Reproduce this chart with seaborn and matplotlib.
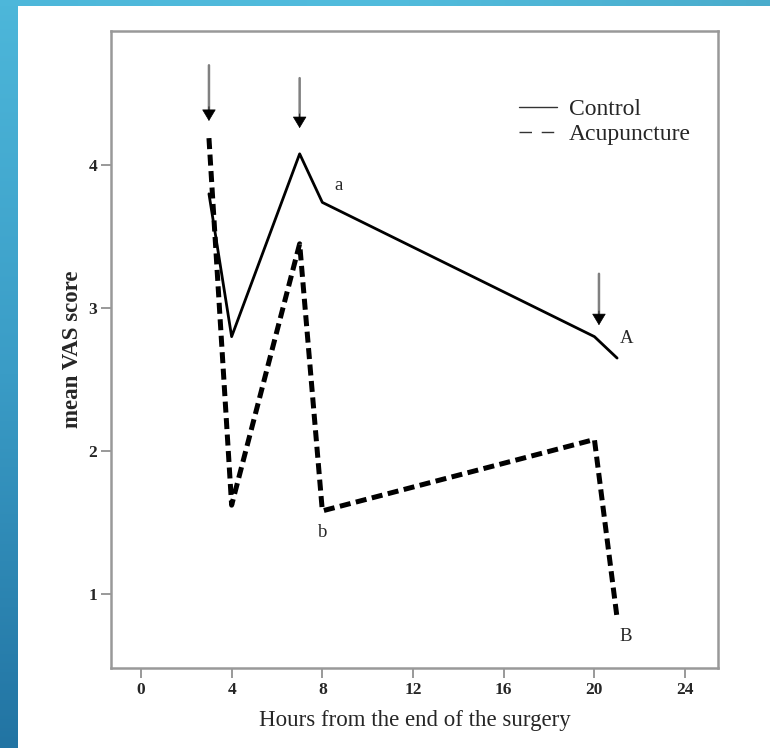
import numpy as np
import pandas as pd
import matplotlib
matplotlib.use("Agg")
import matplotlib.pyplot as plt
from matplotlib.lines import Line2D
from matplotlib.colors import LinearSegmentedColormap
import seaborn as sns

sns.set_style("white")
plt.rcParams['font.family'] = ['Liberation Serif', 'DejaVu Serif']

# data
hours = [3, 4, 7, 8, 20, 21]
control = [3.80, 2.80, 4.08, 3.74, 2.80, 2.65]
acupuncture = [4.19, 1.62, 3.45, 1.58, 2.08, 0.83]

arrow_x = [3, 7, 20.2]
arrow_top = [4.70, 4.61, 3.24]
arrow_tip = [4.31, 4.26, 2.88]

letters = ['a', 'b', 'A', 'B']
letter_x = [8.7, 8.0, 21.4, 21.4]
letter_y = [3.86, 1.43, 2.79, 0.70]

x_ticks = [0, 4, 8, 12, 16, 20, 24]
y_ticks = [1, 2, 3, 4]

df = pd.DataFrame({'hours': hours * 2,
                   'vas': control + acupuncture,
                   'group': ['Control'] * len(hours) + ['Acupuncture'] * len(hours)})

fig = plt.figure(figsize=(7.7, 7.48), dpi=100)

# slide background bands
band = fig.add_axes([0, 0, 18 / 770, 1])
grad = np.linspace(0, 1, 256).reshape(-1, 1)
cmap = LinearSegmentedColormap.from_list('slide', ['#4db7da', '#3a9cc6', '#2274a3'])
band.imshow(grad, aspect='auto', cmap=cmap, extent=[0, 1, 0, 1], origin='upper')
band.axis('off')
top = fig.add_axes([0, 1 - 6 / 748, 1, 6 / 748])
hgrad = np.linspace(0, 1, 256).reshape(1, -1)
top.imshow(hgrad, aspect='auto', extent=[0, 1, 0, 1],
           cmap=LinearSegmentedColormap.from_list('top', ['#4db7da', '#51bcdd', '#4aaccc']))
top.axis('off')

ax = fig.add_axes([111 / 770, 80 / 748, 607 / 770, 637 / 748])

sns.lineplot(data=df[df.group == 'Control'], x='hours', y='vas', ax=ax,
             color='black', lw=2.0, legend=False)
sns.lineplot(data=df[df.group == 'Acupuncture'], x='hours', y='vas', ax=ax,
             color='black', lw=3.6, legend=False)
ax.lines[1].set_dashes([2.2, 1.1])

# dosing arrows: grey shaft, black head
for x, y0, y1 in zip(arrow_x, arrow_top, arrow_tip):
    ax.annotate('', xy=(x, y1 + 0.06), xytext=(x, y0),
                arrowprops=dict(arrowstyle='-', color='#808080', lw=1.8,
                                shrinkA=0, shrinkB=0))
    ax.annotate('', xy=(x, y1), xytext=(x, y1 + 0.1),
                arrowprops=dict(arrowstyle='-|>,head_width=0.45,head_length=0.75',
                                color='black', lw=0.5, shrinkA=0, shrinkB=0))

for t, x, y in zip(letters, letter_x, letter_y):
    ax.text(x, y, t, ha='center', va='center', fontsize=13.5)

ax.set_xlim(-1.32, 25.45)
ax.set_ylim(0.48, 4.94)
ax.set_xticks(x_ticks)
ax.set_yticks(y_ticks)
ax.tick_params(axis='both', direction='out', length=7, width=1.2, color='#888888',
               labelsize=12.5, pad=3, bottom=True, left=True)
for lab in ax.get_xticklabels() + ax.get_yticklabels():
    lab.set_fontweight('bold')
for s in ax.spines.values():
    s.set_color('#999999')
    s.set_linewidth(1.8)

ax.set_xlabel('Hours from the end of the surgery', fontsize=16.5, labelpad=8.5)
ax.set_ylabel('mean VAS score', fontsize=16.5, fontweight='bold', labelpad=4)

handles = [Line2D([], [], color='#333333', lw=1.0),
           Line2D([], [], color='#333333', lw=1.0, dashes=[9, 7])]
ax.legend(handles, ['Control', 'Acupuncture'], loc='upper right',
          bbox_to_anchor=(0.99, 0.927), frameon=False, fontsize=17,
          handlelength=1.6, handletextpad=0.5, labelspacing=0.15)

fig.savefig('out.png', dpi=100)
